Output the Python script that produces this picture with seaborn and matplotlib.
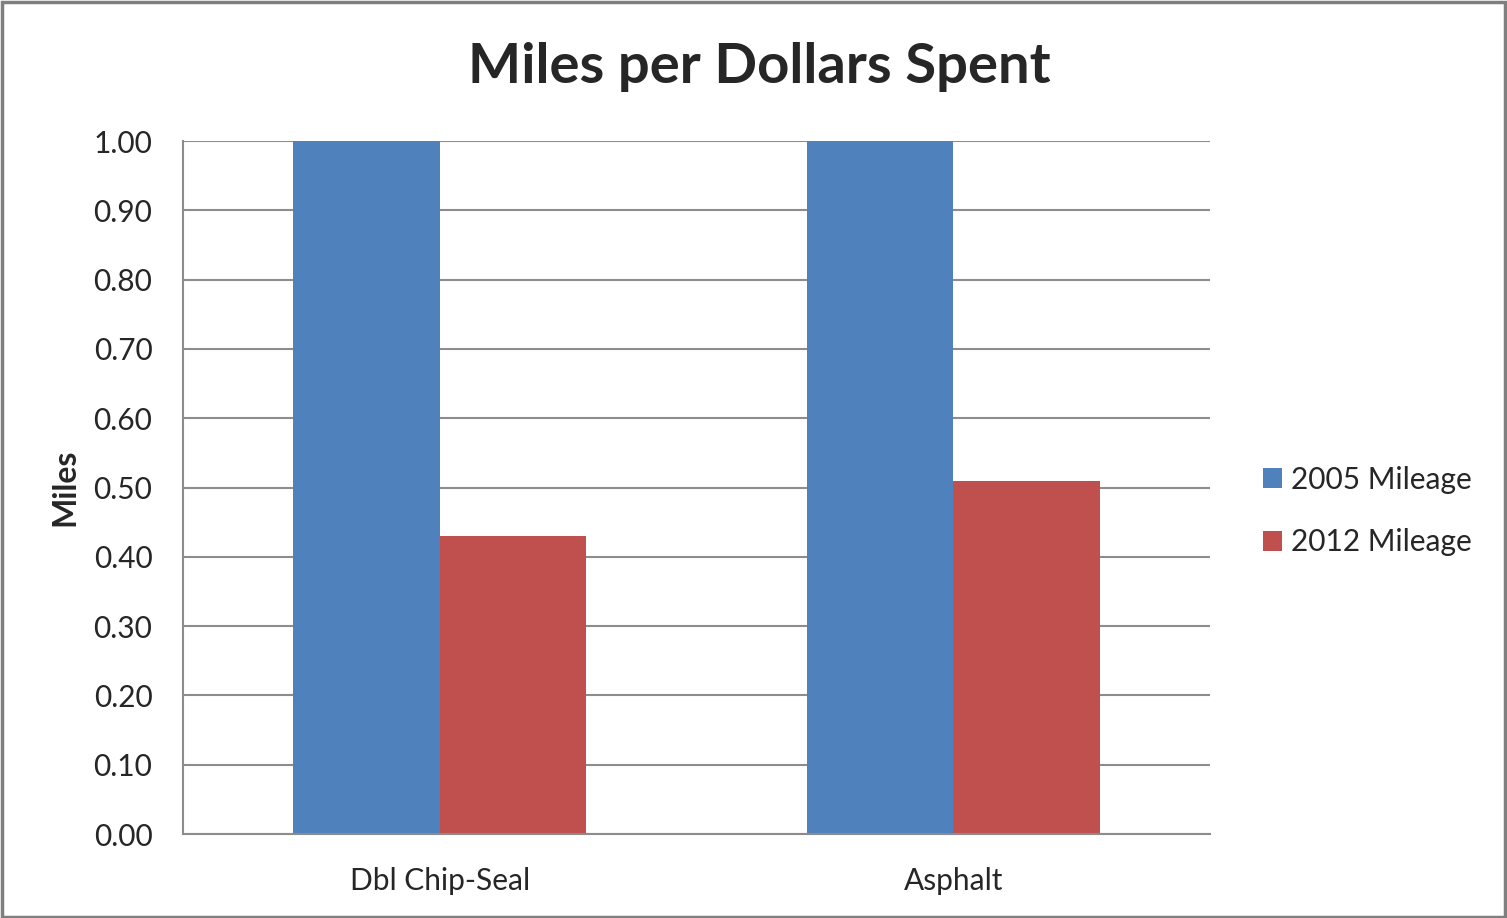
import pandas as pd
import matplotlib
matplotlib.use("Agg")
import matplotlib.pyplot as plt
import seaborn as sns
from matplotlib.patches import Rectangle

# datos del grafico
categorias = ["Dbl Chip-Seal", "Asphalt"]
series = ["2005 Mileage", "2012 Mileage"]
millas_2005 = [1.00, 1.00]
millas_2012 = [0.43, 0.51]
colores = ["#4F81BD", "#C0504D"]
ticks_y = [0.0, 0.1, 0.2, 0.3, 0.4, 0.5, 0.6, 0.7, 0.8, 0.9, 1.0]

df = pd.DataFrame({
    "categoria": categorias * 2,
    "serie": [series[0]] * 2 + [series[1]] * 2,
    "millas": millas_2005 + millas_2012,
})

sns.set_style("white")
plt.rcParams["font.family"] = ["Lato", "DejaVu Sans"]

fig = plt.figure(figsize=(15.07, 9.18), dpi=100)
ax = fig.add_axes([0.1214, 0.0915, 0.6815, 0.7549])

sns.barplot(data=df, x="categoria", y="millas", hue="serie", order=categorias,
            hue_order=series, palette=colores, width=0.57, saturation=1,
            linewidth=0, ax=ax)

ax.set_xlim(-0.5, 1.5)
ax.set_ylim(0, 1.0)
ax.set_yticks(ticks_y)
ax.set_yticklabels([f"{v:.2f}" for v in ticks_y])
ax.yaxis.grid(True, color="#8c8c8c", linewidth=1.5)
ax.set_axisbelow(True)

# marcas del eje x en los limites de cada categoria
ax.set_xticks([-0.5, 0.5, 1.5], minor=True)
ax.tick_params(axis="x", which="major", length=0, labelsize=21.5, pad=24)
ax.tick_params(axis="x", which="minor", length=9, width=1.5, color="#8c8c8c", direction="out")
ax.tick_params(axis="y", length=9, width=1.5, color="#8c8c8c", direction="out", labelsize=21.5, pad=13)

for lado in ["top", "right"]:
    ax.spines[lado].set_visible(False)
for lado in ["left", "bottom"]:
    ax.spines[lado].set_color("#8c8c8c")
    ax.spines[lado].set_linewidth(1.5)

ax.set_xlabel("")
ax.set_ylabel("Miles", fontsize=23, fontweight="bold", labelpad=10)

fig.suptitle("Miles per Dollars Spent", fontsize=40.5, fontweight="bold", x=0.504, y=0.927, va="center")

ax.legend(loc="center left", bbox_to_anchor=(1.025, 0.466), frameon=False, fontsize=21.5,
          handlelength=0.65, handleheight=0.65, handletextpad=0.3, labelspacing=1.15)

# borde gris alrededor de la figura
fig.patches.append(Rectangle((0.001, 0.001), 0.998, 0.997, transform=fig.transFigure,
                             fill=False, edgecolor="#7f7f7f", linewidth=2.5))

fig.savefig("out.png", dpi=100)
